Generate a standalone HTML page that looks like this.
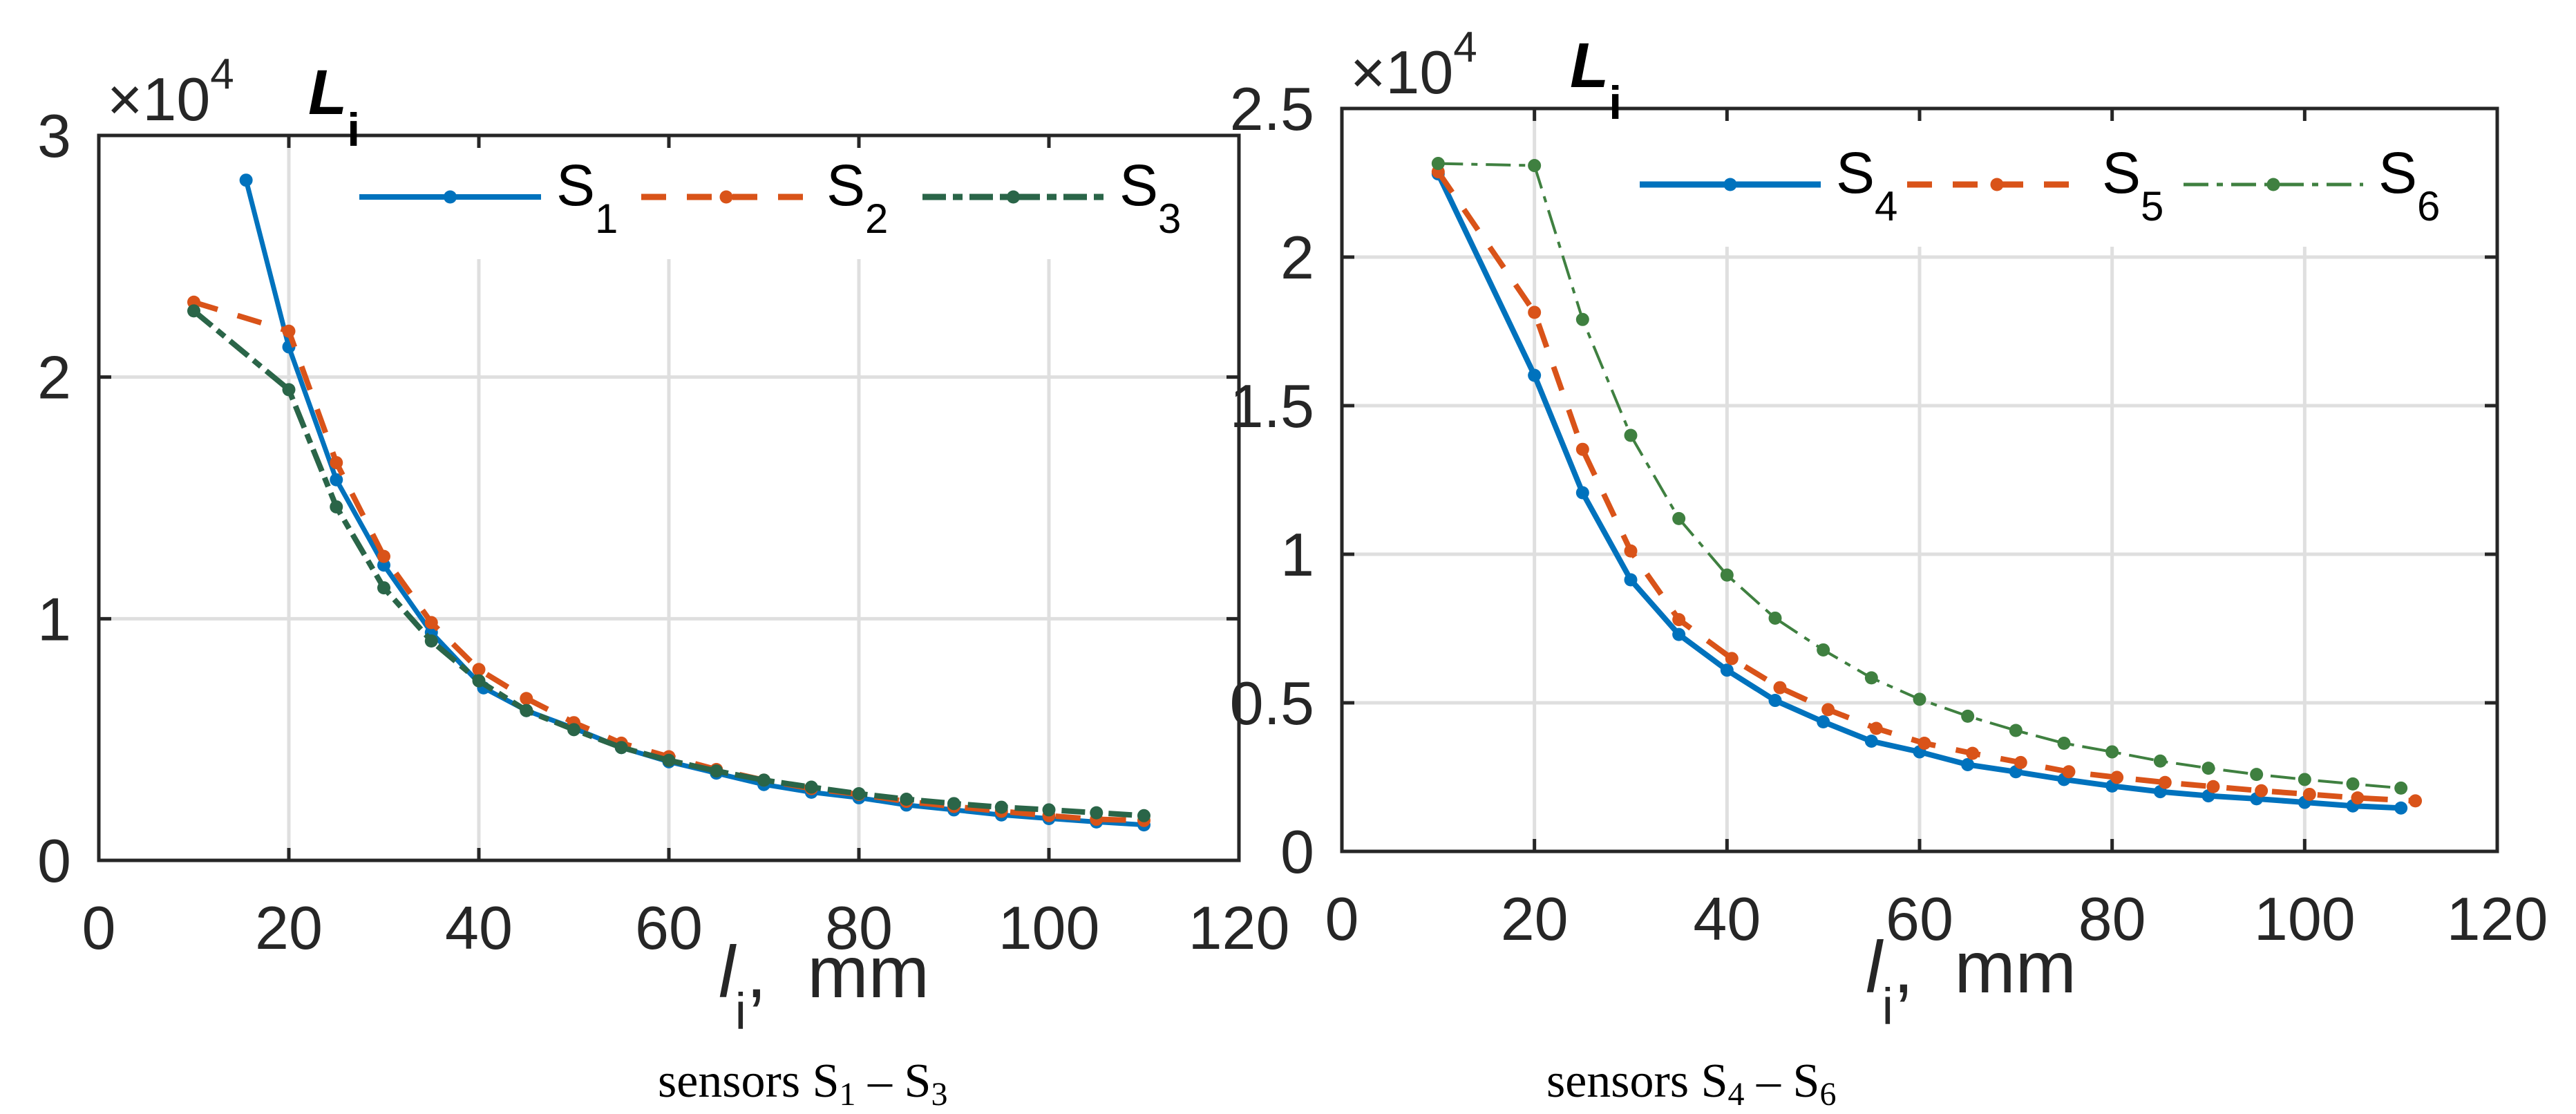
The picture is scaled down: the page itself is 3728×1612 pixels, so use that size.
<!DOCTYPE html>
<html><head><meta charset="utf-8"><style>
html,body{margin:0;padding:0;background:#fff;}
svg{display:block;}
text{font-family:"Liberation Sans",sans-serif;fill:#262626;}
</style></head><body>
<svg id="svg" width="3728" height="1612" viewBox="0 0 3728 1612" xmlns="http://www.w3.org/2000/svg">
<g id="p1"></g>
<g id="p2"></g>
<text x="952" y="1587" style="font-family:'Liberation Serif',serif;font-size:70px;fill:#000">sensors S<tspan font-size="48" dy="12">1</tspan><tspan dy="-12"> – S</tspan><tspan font-size="48" dy="12">3</tspan></text>
<text x="2238" y="1587" style="font-family:'Liberation Serif',serif;font-size:70px;fill:#000">sensors S<tspan font-size="48" dy="12">4</tspan><tspan dy="-12"> – S</tspan><tspan font-size="48" dy="12">6</tspan></text>
</svg>
<script>
const NS="http://www.w3.org/2000/svg";
// left chart data
const xS1=[15.5,20,25,30,35,40.5,45,50,55,60,65,70,75,80,85,90,95,100,105,110];
const yS1=[2.815,2.125,1.575,1.222,0.943,0.714,0.62,0.547,0.467,0.408,0.361,0.314,0.282,0.259,0.229,0.209,0.188,0.173,0.159,0.147];
const xS2=[10,20,25,30,35,40,45,50,55,60,65,70,75,80,85,90,95,100,105,110];
const yS2=[2.31,2.19,1.646,1.258,0.984,0.79,0.67,0.57,0.485,0.429,0.376,0.332,0.297,0.273,0.244,0.223,0.203,0.185,0.17,0.165];
const xS3=[10,20,25,30,35,40,45,50,55,60,65,70,75,80,85,90,95,100,105,110];
const yS3=[2.274,1.948,1.463,1.128,0.908,0.743,0.62,0.541,0.467,0.414,0.37,0.332,0.303,0.276,0.253,0.235,0.22,0.209,0.197,0.185];
// right chart data
const xS4=[10,20,25,30,35,40,45,50,55,60,65,70,75,80,85,90,95,100,105,110];
const yS4=[2.28,1.602,1.207,0.914,0.73,0.61,0.508,0.436,0.371,0.335,0.292,0.268,0.242,0.22,0.201,0.187,0.177,0.165,0.153,0.146];
const xS5=[10,20,25,30,35,40.5,45.5,50.5,55.5,60.5,65.5,70.5,75.5,80.5,85.5,90.5,95.5,100.5,105.5,111.5];
const yS5=[2.287,1.814,1.353,1.011,0.78,0.649,0.551,0.477,0.414,0.364,0.33,0.299,0.268,0.249,0.232,0.218,0.204,0.192,0.18,0.17];
const xS6=[10,20,25,30,35,40,45,50,55,60,65,70,75,80,85,90,95,100,105,110];
const yS6=[2.315,2.308,1.79,1.4,1.12,0.93,0.785,0.678,0.584,0.512,0.455,0.407,0.364,0.335,0.304,0.28,0.259,0.242,0.227,0.213];
const xTicks=[0,20,40,60,80,100,120];
const yTicksL=[0,1,2,3];
const yTicksR=[0,0.5,1,1.5,2,2.5];
const yTickLabelsR=["0","0.5","1","1.5","2","2.5"];

function mk(parent,tag,attrs,text){const e=document.createElementNS(NS,tag);for(const k in attrs)e.setAttribute(k,attrs[k]);if(text!==undefined)e.textContent=text;parent.appendChild(e);return e;}

function chart(g,cfg){
  const X=v=>cfg.l+(v-0)/120*(cfg.r-cfg.l);
  const Y=v=>cfg.b-v/cfg.ymax*(cfg.b-cfg.t);
  xTicks.forEach(v=>{if(v===0||v===120)return;const top=X(v)>cfg.legL&&X(v)<cfg.legR?cfg.legB:cfg.t;
    const ln=mk(g,'line',{x1:X(v),x2:X(v),y1:top,y2:cfg.b,stroke:'#dfdfdf','stroke-width':5});
    
    });
  cfg.yt.forEach(v=>{if(v===0||v===cfg.ymax)return;
    const ln=mk(g,'line',{x1:cfg.l,x2:cfg.r,y1:Y(v),y2:Y(v),stroke:'#dfdfdf','stroke-width':5});
    
    });
  const lb=mk(g,'rect',{x:cfg.legL,y:cfg.t+4,width:cfg.r-4-cfg.legL,height:cfg.legB-cfg.t-4,fill:'#fff'});
  
  
  xTicks.forEach(v=>{
    const t1=mk(g,'path',{d:`M${X(v)},${cfg.b}v-18M${X(v)},${cfg.t}v18`,stroke:'#262626','stroke-width':5});
    
    
    const tl=mk(g,'text',{x:X(v),y:cfg.xlb,'text-anchor':'middle','font-size':88},String(v));
    
    });
  cfg.yt.forEach((v,i)=>{
    const t1=mk(g,'path',{d:`M${cfg.l},${Y(v)}h18M${cfg.r},${Y(v)}h-18`,stroke:'#262626','stroke-width':5});
    
    
    const tl=mk(g,'text',{x:cfg.l-40,y:Y(v)+31,'text-anchor':'end','font-size':88},cfg.ytl[i]);
    
    });
  cfg.series.forEach(s=>{
    const d=s.x.map((v,i)=>(i?'L':'M')+X(v).toFixed(1)+','+Y(s.y[i]).toFixed(1)).join('');
    const p=mk(g,'path',{d:d,fill:'none',stroke:s.c,'stroke-width':s.w,'stroke-dasharray':s.dash||'none','stroke-linejoin':'round'});
    
    
    s.x.forEach((v,i)=>{const c=mk(g,'circle',{cx:X(v),cy:Y(s.y[i]),r:9.5,fill:s.c});
      
      });
    const le=mk(g,'g',{});
    
    
    mk(le,'line',{x1:s.lx1,x2:s.lx2,y1:cfg.legY,y2:cfg.legY,stroke:s.c,'stroke-width':s.w+1,'stroke-dasharray':s.dash||'none'});
    mk(le,'circle',{cx:(s.lx1+s.lx2)/2,cy:cfg.legY,r:9.5,fill:s.c});
    const t=mk(le,'text',{x:s.lx2+22,y:cfg.legY+12,'font-size':84,style:'fill:#000'},'S');
    mk(t,'tspan',{'font-size':60,dy:40},s.name.slice(1));
  });
  const bx=mk(g,'rect',{x:cfg.l,y:cfg.t,width:cfg.r-cfg.l,height:cfg.b-cfg.t,fill:'none',stroke:'#262626','stroke-width':5});
  
  
  const ex=mk(g,'text',{x:cfg.l+12,y:cfg.t-22,'font-size':88},'×10');
  
  
  mk(ex,'tspan',{'font-size':62,dy:-46},'4');
  const yl=mk(g,'text',{x:cfg.l+cfg.Lx,y:cfg.t-31,'font-size':92,'font-weight':'bold','font-style':'italic',style:'fill:#000'},'L');
  
  
  mk(yl,'tspan',{'font-size':68,dy:46,'font-style':'normal'},'i');
  const xl=mk(g,'text',{x:cfg.xlx,y:cfg.xly,'font-size':106},'');
  
  
  mk(xl,'tspan',{'font-style':'italic'},'l');
  mk(xl,'tspan',{'font-size':74,dy:46},'i');
  mk(xl,'tspan',{dy:-46},',\u00a0\u00a0mm');
}
chart(document.getElementById('p1'),{l:143,r:1793,t:196,b:1245,ymax:3,yt:yTicksL,ytl:yTicksL.map(String),
  legL:470,legR:1793,legB:375,legY:285,xlb:1373,Lx:303,xlx:1040,xly:1443,
  series:[
   {name:'S1',x:xS1,y:yS1,c:'#0072BD',w:7,lx1:520,lx2:783},
   {name:'S2',x:xS2,y:yS2,c:'#D95319',w:8,dash:'36 30',lx1:928,lx2:1174},
   {name:'S3',x:xS3,y:yS3,c:'#2A6548',w:8,dash:'34 10 14 10',lx1:1335,lx2:1598}]});
chart(document.getElementById('p2'),{l:1942,r:3614,t:157,b:1232,ymax:2.5,yt:yTicksR,ytl:yTickLabelsR,
  legL:2330,legR:3614,legB:357,legY:267,xlb:1360,Lx:330,xlx:2700,xly:1436,
  series:[
   {name:'S4',x:xS4,y:yS4,c:'#0072BD',w:8,lx1:2373,lx2:2635},
   {name:'S5',x:xS5,y:yS5,c:'#D95319',w:8,dash:'36 30',lx1:2760,lx2:3020},
   {name:'S6',x:xS6,y:yS6,c:'#3F8040',w:4,dash:'36 12 9 12',lx1:3160,lx2:3420}]});
</script>
</body></html>
